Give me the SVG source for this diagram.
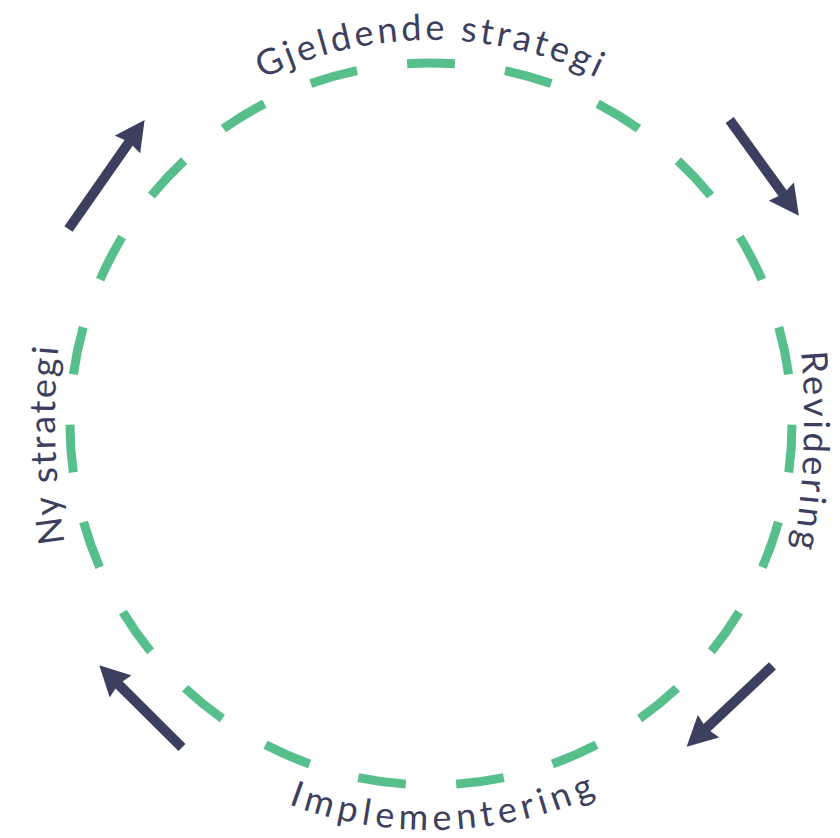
<svg xmlns="http://www.w3.org/2000/svg" width="840" height="838" viewBox="0 0 840 838">
  <style>
    .ring { fill: none; stroke: #57bf8c; stroke-width: 9; stroke-dasharray: 48.7 51.3; stroke-dashoffset: -0.65; }
    .arrow { stroke: #3d3f5e; stroke-width: 10; stroke-linecap: butt; fill: none; marker-end: url(#head); }
    .lbl { font-family: Lato, "Open Sans", sans-serif; font-size: 36px; fill: #3d3f5e; }
  </style>
  <defs>
    <marker id="head" viewBox="0 0 30 31" markerWidth="30" markerHeight="31" refX="9" refY="15.5" orient="auto" markerUnits="userSpaceOnUse">
      <path d="M0,0 L30,15.5 L0,31 L3,15.5 Z" fill="#3d3f5e"/>
    </marker>
    <path id="pTop" d="M47,424 A384,384 0 0 1 815,424"/>
    <path id="pRight" d="M575.3,-140 A800,800 0 0 1 575.3,980"/>
    <path id="pLeft" d="M283.7,980 A800,800 0 0 1 283.7,-140"/>
    <path id="pBottom" d="M25,424 A406,406 0 0 0 837,424"/>
  </defs>
  <rect width="840" height="838" fill="#ffffff"/>
  <g id="cycle-ring">
    <circle class="ring" cx="431" cy="424" r="361" pathLength="2300"/>
  </g>
  <g id="gjeldende-strategi">
    <text class="lbl" text-anchor="middle" letter-spacing="3.4"><textPath href="#pTop" startOffset="50%">Gjeldende strategi</textPath></text>
  </g>
  <g id="revidering">
    <text class="lbl" text-anchor="middle" letter-spacing="3.3"><textPath href="#pRight" startOffset="652">Revidering</textPath></text>
  </g>
  <g id="implementering">
    <text class="lbl" text-anchor="middle" letter-spacing="5.2"><textPath href="#pBottom" startOffset="652">Implementering</textPath></text>
  </g>
  <g id="ny-strategi">
    <text class="lbl" text-anchor="middle" letter-spacing="2.4"><textPath href="#pLeft" startOffset="596">Ny strategi</textPath></text>
  </g>
  <g id="connectors">
    <line class="arrow" x1="68.5" y1="229" x2="132.6" y2="137.1"/>
    <line class="arrow" x1="729.7" y1="120" x2="786.6" y2="198.8"/>
    <line class="arrow" x1="772.5" y1="665.8" x2="701.9" y2="732.3"/>
    <line class="arrow" x1="182" y1="747.5" x2="114.2" y2="680.1"/>
  </g>
</svg>
